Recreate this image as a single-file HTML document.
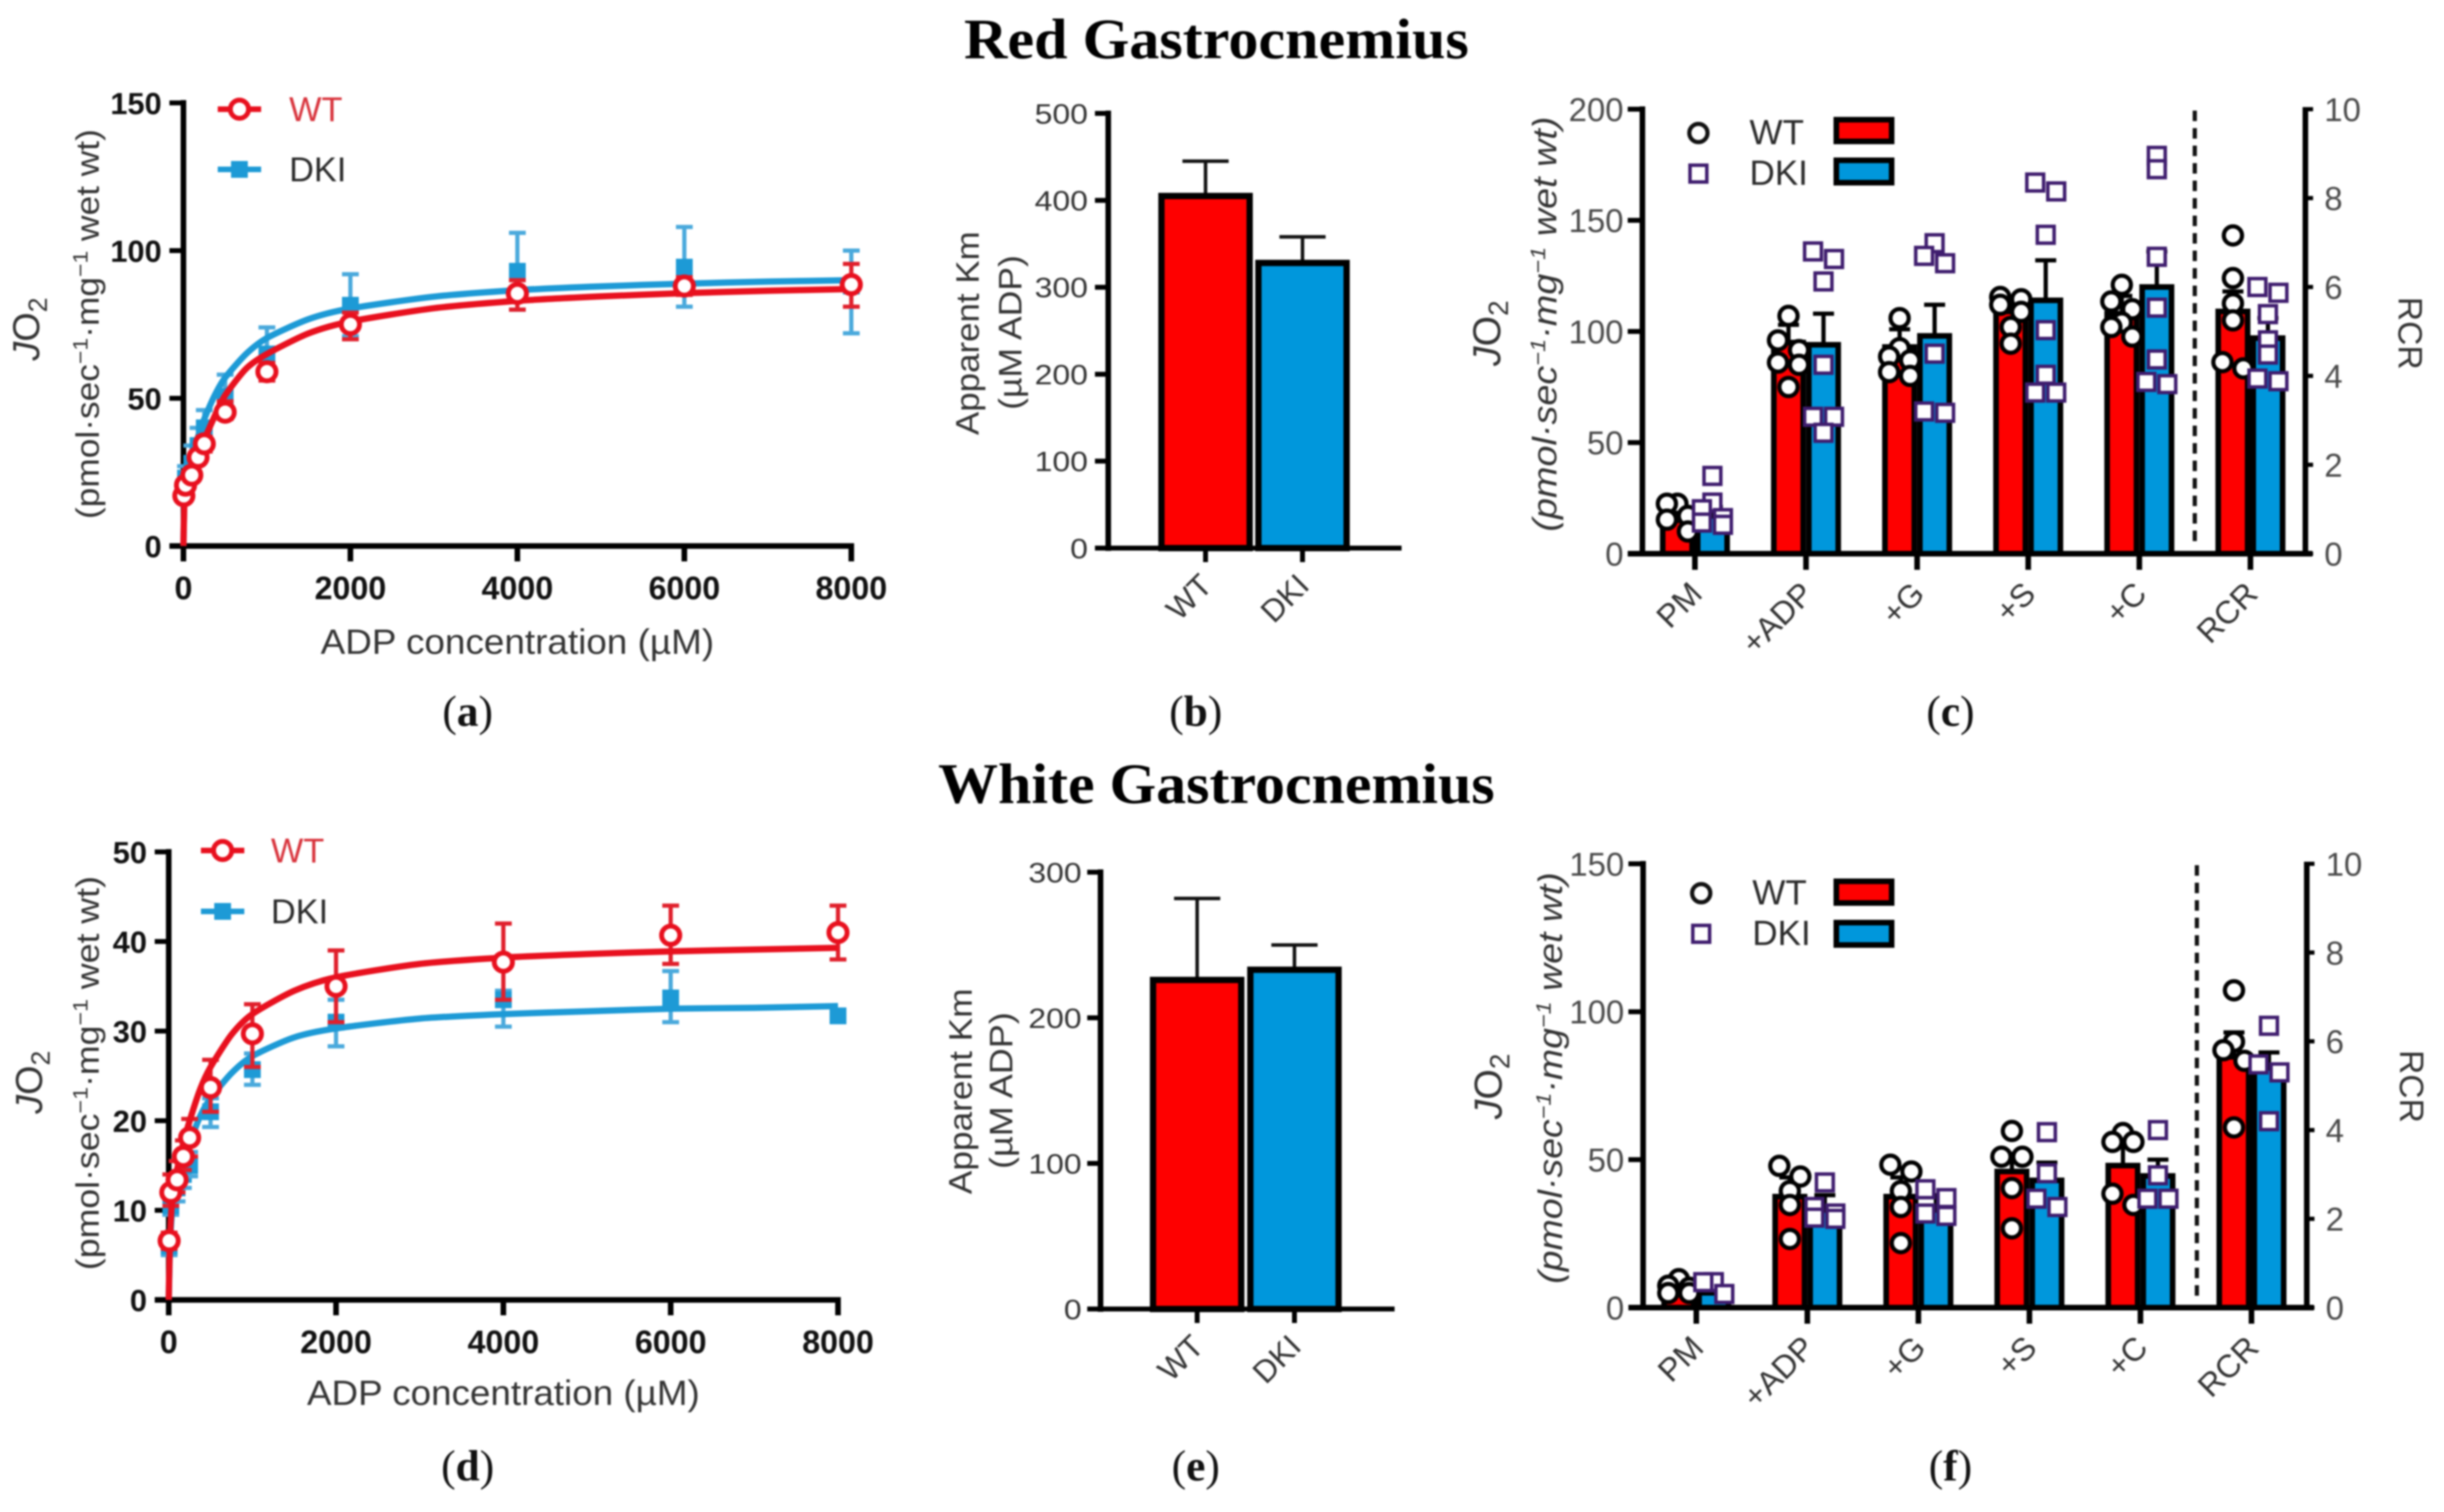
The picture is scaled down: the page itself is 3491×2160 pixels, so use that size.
<!DOCTYPE html>
<html lang="en">
<head>
<meta charset="utf-8">
<title>Red and White Gastrocnemius respiration figure</title>
<style>
html,body{margin:0;padding:0;background:#fff;}
svg{display:block;filter:blur(1.4px);}
text{font-family:"Liberation Sans",sans-serif;}
.serif{font-family:"Liberation Serif",serif;}
.title{font-family:"Liberation Serif",serif;font-weight:bold;font-size:82px;fill:#000;}
.plabel{font-family:"Liberation Serif",serif;font-size:62px;fill:#111;text-anchor:middle;}
.axt{fill:#333;font-size:50px;}
.leg{fill:#2a2a2a;font-size:50px;}
</style>
</head>
<body>
<svg id="fig" xmlns="http://www.w3.org/2000/svg" width="3491" height="2160" viewBox="0 0 3491 2160">
<rect width="3491" height="2160" fill="#fff"/>
<text class="title" x="1377" y="83" textLength="721" lengthAdjust="spacingAndGlyphs">Red Gastrocnemius</text>
<text class="title" x="1340" y="1147" textLength="795" lengthAdjust="spacingAndGlyphs">White Gastrocnemius</text>

<text class="plabel" x="668" y="1037">(<tspan font-weight="bold">a</tspan>)</text>
<text class="plabel" x="1708" y="1037">(<tspan font-weight="bold">b</tspan>)</text>
<text class="plabel" x="2786" y="1037">(<tspan font-weight="bold">c</tspan>)</text>
<text class="plabel" x="668" y="2115">(<tspan font-weight="bold">d</tspan>)</text>
<text class="plabel" x="1708" y="2115">(<tspan font-weight="bold">e</tspan>)</text>
<text class="plabel" x="2786" y="2115">(<tspan font-weight="bold">f</tspan>)</text>

<!-- axis titles panel a -->
<text class="axt" transform="translate(56,470) rotate(-90)" text-anchor="middle" style="font-size:54px"><tspan font-style="italic">J</tspan>O<tspan dy="11" style="font-size:38px">2</tspan></text>
<text class="axt" transform="translate(141,463) rotate(-90)" text-anchor="middle" style="font-size:46px" textLength="557" lengthAdjust="spacingAndGlyphs">(pmol·sec<tspan dy="-16" style="font-size:30px">−1</tspan><tspan dy="16">·mg</tspan><tspan dy="-16" style="font-size:30px">−1</tspan><tspan dy="16"> wet wt)</tspan></text>
<text class="axt" x="739" y="934" text-anchor="middle" textLength="562" lengthAdjust="spacingAndGlyphs">ADP concentration (µM)</text>
<!-- axis titles panel d -->
<text class="axt" transform="translate(60,1546) rotate(-90)" text-anchor="middle" style="font-size:54px"><tspan font-style="italic">J</tspan>O<tspan dy="11" style="font-size:38px">2</tspan></text>
<text class="axt" transform="translate(141,1533) rotate(-90)" text-anchor="middle" style="font-size:46px" textLength="563" lengthAdjust="spacingAndGlyphs">(pmol·sec<tspan dy="-16" style="font-size:30px">−1</tspan><tspan dy="16">·mg</tspan><tspan dy="-16" style="font-size:30px">−1</tspan><tspan dy="16"> wet wt)</tspan></text>
<text class="axt" x="719" y="2007" text-anchor="middle" textLength="561" lengthAdjust="spacingAndGlyphs">ADP concentration (µM)</text>
<!-- panel b, e -->
<text class="axt" transform="translate(1398,476) rotate(-90)" text-anchor="middle" style="font-size:46px" textLength="291" lengthAdjust="spacingAndGlyphs">Apparent Km</text>
<text class="axt" transform="translate(1459,475) rotate(-90)" text-anchor="middle" style="font-size:46px" textLength="221" lengthAdjust="spacingAndGlyphs">(µM ADP)</text>
<text class="axt" transform="translate(1388,1559) rotate(-90)" text-anchor="middle" style="font-size:46px" textLength="294" lengthAdjust="spacingAndGlyphs">Apparent Km</text>
<text class="axt" transform="translate(1446,1558) rotate(-90)" text-anchor="middle" style="font-size:46px" textLength="224" lengthAdjust="spacingAndGlyphs">(µM ADP)</text>
<!-- panel c -->
<text class="axt" transform="translate(2143,476) rotate(-90)" text-anchor="middle" style="font-size:56px"><tspan font-style="italic">J</tspan>O<tspan dy="11" style="font-size:40px">2</tspan></text>
<text class="axt" transform="translate(2223,463) rotate(-90)" text-anchor="middle" font-style="italic" style="font-size:48px" textLength="593" lengthAdjust="spacingAndGlyphs">(pmol·sec<tspan dy="-16" style="font-size:30px">−1</tspan><tspan dy="16">·mg</tspan><tspan dy="-16" style="font-size:30px">−1</tspan><tspan dy="16"> wet wt)</tspan></text>
<text class="axt" transform="translate(3426,476) rotate(90)" text-anchor="middle" style="font-size:48px">RCR</text>
<!-- panel f -->
<text class="axt" transform="translate(2145,1552) rotate(-90)" text-anchor="middle" style="font-size:56px"><tspan font-style="italic">J</tspan>O<tspan dy="11" style="font-size:40px">2</tspan></text>
<text class="axt" transform="translate(2231,1540) rotate(-90)" text-anchor="middle" font-style="italic" style="font-size:48px" textLength="588" lengthAdjust="spacingAndGlyphs">(pmol·sec<tspan dy="-16" style="font-size:30px">−1</tspan><tspan dy="16">·mg</tspan><tspan dy="-16" style="font-size:30px">−1</tspan><tspan dy="16"> wet wt)</tspan></text>
<text class="axt" transform="translate(3428,1552) rotate(90)" text-anchor="middle" style="font-size:48px">RCR</text>

<g id="plots"></g>

<!-- legends -->
<g>
 <line x1="311" y1="156" x2="373" y2="156" stroke="#e8101e" stroke-width="8"/>
 <circle cx="342" cy="156" r="13" fill="#fff" stroke="#e8101e" stroke-width="7"/>
 <text x="413" y="173" style="font-size:49px;fill:#d8333c">WT</text>
 <line x1="311" y1="242" x2="373" y2="242" stroke="#1d9ad6" stroke-width="8"/>
 <rect x="330" y="230" width="24" height="24" fill="#1d9ad6"/>
 <text x="413" y="259" style="font-size:49px;fill:#2a2a2a">DKI</text>
</g>
<g>
 <line x1="287" y1="1215" x2="349" y2="1215" stroke="#e8101e" stroke-width="8"/>
 <circle cx="318" cy="1215" r="13" fill="#fff" stroke="#e8101e" stroke-width="7"/>
 <text x="387" y="1232" style="font-size:49px;fill:#d8333c">WT</text>
 <line x1="287" y1="1302" x2="349" y2="1302" stroke="#1d9ad6" stroke-width="8"/>
 <rect x="306" y="1290" width="24" height="24" fill="#1d9ad6"/>
 <text x="387" y="1319" style="font-size:49px;fill:#2a2a2a">DKI</text>
</g>
<g>
 <circle cx="2426" cy="190" r="13" fill="#fff" stroke="#111" stroke-width="6"/>
 <text class="leg" x="2499" y="206">WT</text>
 <rect x="2623" y="171" width="79" height="31" fill="#fe0000" stroke="#000" stroke-width="8"/>
 <rect x="2414" y="236" width="24" height="24" fill="#fff" stroke="#3f1d6e" stroke-width="5"/>
 <text class="leg" x="2499" y="264">DKI</text>
 <rect x="2623" y="229" width="79" height="32" fill="#0097dc" stroke="#000" stroke-width="8"/>
</g>
<g>
 <circle cx="2430" cy="1276" r="13" fill="#fff" stroke="#111" stroke-width="6"/>
 <text class="leg" x="2503" y="1292">WT</text>
 <rect x="2623" y="1259" width="79" height="31" fill="#fe0000" stroke="#000" stroke-width="8"/>
 <rect x="2418" y="1322" width="24" height="24" fill="#fff" stroke="#3f1d6e" stroke-width="5"/>
 <text class="leg" x="2503" y="1350">DKI</text>
 <rect x="2623" y="1318" width="79" height="32" fill="#0097dc" stroke="#000" stroke-width="8"/>
</g>
</svg>

<script>
// ---------- Kinetic curves (panels a, d) ----------
const concentrations = [5, 25, 100, 175, 250, 500, 1000, 2000, 4000, 6000, 8000];
const curveConc = [0, 8, 15, 25, 50, 100, 175, 250, 375, 500, 750, 1000, 1500, 2000, 3000, 4000, 5000, 6000, 7000, 8000];
const kineticXTicks = [0, 2000, 4000, 6000, 8000];

const aYTicks = [0, 50, 100, 150];
const aWt = [17, 20.6, 24, 30, 34.6, 45.3, 59, 75, 85.5, 88, 88.5];
const aWtHi = [19, 22.6, 26, 32, 37, 49, 62, 79, 90, 91, 95.5];
const aWtLo = [15, 18.6, 22, 28, 32, 43, 56, 70, 80, 85, 81];
const aDki = [19, 23, 28, 34, 40, 50.6, 65, 81.5, 93, 94.4, 88];
const aDkiHi = [22, 27, 34, 40, 46, 58, 74, 92, 106, 108, 100];
const aDkiLo = [16, 19, 24, 30, 34, 46, 58, 71, 80, 81, 72];
const aWtCurve = [0, 12, 17, 19.5, 22, 26, 31, 36, 44, 51, 60, 65, 72, 76, 80.5, 83, 84.5, 85.6, 86.4, 87];
const aDkiCurve = [0, 14, 20, 23, 26, 31, 37, 43, 51, 57, 65, 70.4, 76.8, 80.4, 84.4, 86.6, 87.9, 88.8, 89.5, 90];

const dYTicks = [0, 10, 20, 30, 40, 50];
const dWt = [6.6, 12, 13.4, 16, 18.1, 23.7, 29.7, 35, 37.7, 40.7, 41];
const dWtHi = [7.5, 14, 15.5, 17.8, 20.2, 26.8, 33, 39, 42, 44, 44];
const dWtLo = [5.7, 10.5, 12, 14.5, 16, 21, 26, 31, 33.5, 37.5, 38];
const dDki = [6, 10.5, 12.5, 14, 15, 21, 25.7, 31, 33.5, 33.7, 31.7];
const dDkiHi = [7, 12, 14, 15.5, 16.5, 22.5, 27.5, 33.5, 34.5, 36.7, 32.3];
const dDkiLo = [5, 9.5, 11, 12.5, 13.8, 19.3, 24, 28.3, 30.5, 31, 31.1];
const dWtCurve = [0, 4, 6.6, 9, 12, 14.5, 17.5, 20, 23.5, 26, 29.6, 31.9, 34.5, 36, 37.5, 38.2, 38.6, 38.9, 39.1, 39.3];
const dDkiCurve = [0, 3.5, 6, 8, 11, 13, 15.5, 17.5, 20.5, 22.5, 25.3, 27.2, 29.3, 30.3, 31.4, 31.9, 32.2, 32.5, 32.6, 32.8];

// ---------- Apparent Km bars (panels b, e) ----------
const kmGroups = ['WT', 'DKI'];
const bYTicks = [0, 100, 200, 300, 400, 500];
const bKm = [405, 328];
const bKmHi = [445, 358];
const eYTicks = [0, 100, 200, 300];
const eKm = [226, 233];
const eKmHi = [282, 250];

// ---------- Respiration bars (panels c, f). Last entry of each array is RCR, read on the right axis ----------
const stepCategories = ['PM', '+ADP', '+G', '+S', '+C', 'RCR'];
const rcrTicks = [0, 2, 4, 6, 8, 10];

const cYTicks = [0, 50, 100, 150, 200];
const cWtMean = [15, 95, 93, 109, 108, 5.45];
const cWtHi = [19, 103, 101, 115, 116, 5.9];
const cDkiMean = [17, 94, 98, 114, 120, 4.85];
const cDkiHi = [21, 108, 112, 132, 136, 5.3];
const cWtPoints = [
  [22.5, 22.5, 17, 15.3, 10],
  [107, 96, 91.6, 86, 85, 75],
  [106, 92.5, 88.7, 87, 81.7, 80],
  [115.5, 114.5, 112, 108.8, 102, 94.5],
  [121, 113.5, 110, 104, 102, 97.7],
  [7.16, 6.2, 5.63, 5.25, 4.31, 4.17]
];
const cDkiPoints = [
  [35, 23, 20, 16, 14, 13],
  [136, 132.6, 122.5, 85, 61.6, 61.6, 54.4],
  [139.7, 134, 130.7, 90, 64, 63.4],
  [167, 163, 143.5, 100.6, 80.5, 72.5, 72.5],
  [179, 173, 133.6, 110.7, 87.4, 77.3, 76.3],
  [6, 5.87, 5.39, 4.8, 4.48, 3.94, 3.88]
];

const fYTicks = [0, 50, 100, 150];
const fWtMean = [5, 37.5, 37.5, 46, 48, 5.65];
const fWtHi = [7, 44, 44, 52, 56, 6.2];
const fDkiMean = [5, 33, 33, 43, 44.5, 5.4];
const fDkiHi = [7, 38, 38, 49, 50, 5.75];
const fWtPoints = [
  [9.6, 7.4, 6.7, 4.9, 4.9],
  [47.9, 44.3, 39.4, 34.7, 23.2],
  [48.3, 46, 39.4, 34, 21.8],
  [59.7, 51, 51, 40.4, 26.8],
  [59, 56, 56, 38.5, 34.7],
  [7.15, 5.99, 5.8, 5.56, 4.06]
];
const fDkiPoints = [
  [8.6, 8.6, 4.6],
  [42.3, 34, 31.8, 30.4, 30],
  [40, 37, 31.8, 31],
  [59.3, 45.4, 36.8, 34],
  [60, 44.7, 36.8, 36.8],
  [6.35, 5.48, 5.3, 4.2]
];

// ---------- Drawing ----------
const NS = 'http://www.w3.org/2000/svg';
const RED = '#fe0000', BLUE = '#0097dc', LINE_RED = '#e8101e', LINE_BLUE = '#1d9ad6', PURPLE = '#3f1d6e';
const root = document.getElementById('plots');

function make(parent, tag, attrs) {
  const node = document.createElementNS(NS, tag);
  for (const k in attrs) node.setAttribute(k, attrs[k]);
  parent.appendChild(node);
  return node;
}
function smoothPath(pts) {
  let d = 'M' + pts[0][0].toFixed(1) + ' ' + pts[0][1].toFixed(1);
  for (let i = 0; i < pts.length - 1; i++) {
    const p0 = pts[Math.max(i - 1, 0)], p1 = pts[i], p2 = pts[i + 1], p3 = pts[Math.min(i + 2, pts.length - 1)];
    const c1x = p1[0] + (p2[0] - p0[0]) / 8, c1y = p1[1] + (p2[1] - p0[1]) / 8;
    const c2x = p2[0] - (p3[0] - p1[0]) / 8, c2y = p2[1] - (p3[1] - p1[1]) / 8;
    d += 'C' + c1x.toFixed(1) + ' ' + c1y.toFixed(1) + ' ' + c2x.toFixed(1) + ' ' + c2y.toFixed(1) + ' ' + p2[0].toFixed(1) + ' ' + p2[1].toFixed(1);
  }
  return d;
}
function linearScale(d0, d1, r0, r1) {
  return v => r0 + (v - d0) / (d1 - d0) * (r1 - r0);
}

function drawLeftAxis(g, axisX, yBottom, yTop, ticks, y, tickLeft, width, labelRight, fontSize, bold, fill, stretch) {
  const spine = make(g, 'line', {x1: axisX, y1: yTop - width / 2, x2: axisX, y2: yBottom + width / 2, stroke: '#000', 'stroke-width': width});
  
  
  ticks.forEach(t => {
    const tick = make(g, 'line', {x1: tickLeft, y1: y(t), x2: axisX, y2: y(t), stroke: '#000', 'stroke-width': width - 1});
    
    
    const attrs = {x: labelRight, y: y(t) + fontSize * 0.358, 'text-anchor': 'end', fill: fill, style: 'font-size:' + fontSize + 'px;font-weight:' + (bold ? 'bold' : 'normal')};
    if (stretch) { attrs.textLength = String(t).length * fontSize * 0.556 * stretch; attrs.lengthAdjust = 'spacingAndGlyphs'; }
    const label = make(g, 'text', attrs);
    
    
    label.textContent = t;
  });
}

function drawKinetic(id, box, yTicks, wt, wtHi, wtLo, dki, dkiHi, dkiLo, wtCurve, dkiCurve) {
  const x = linearScale(0, 8000, box.x0, box.x1);
  const y = linearScale(0, yTicks[yTicks.length - 1], box.y0, box.y1);
  const g = make(root, 'g', {});
  
  

  drawLeftAxis(g, box.x0, box.y0, box.y1, yTicks, y, box.x0 - 20, 8, box.x0 - 31, 44, true, '#111');
  const baseline = make(g, 'line', {x1: box.x0 - 20, y1: box.y0, x2: box.x1 + 4, y2: box.y0, stroke: '#000', 'stroke-width': 8});
  
  
  kineticXTicks.forEach(t => {
    const tick = make(g, 'line', {x1: x(t), y1: box.y0, x2: x(t), y2: box.y0 + 22, stroke: '#000', 'stroke-width': 8});
    
    
    const label = make(g, 'text', {x: x(t), y: box.y0 + 76, 'text-anchor': 'middle', fill: '#111', style: 'font-size:46px;font-weight:bold'});
    
    
    label.textContent = t;
  });

  // DKI series
  concentrations.forEach((c, i) => {
    const err = make(g, 'path', {d: 'M' + (x(c) - 12) + ' ' + y(dkiHi[i]) + 'H' + (x(c) + 12) + 'M' + x(c) + ' ' + y(dkiHi[i]) + 'V' + y(dkiLo[i]) + 'M' + (x(c) - 12) + ' ' + y(dkiLo[i]) + 'H' + (x(c) + 12), stroke: '#4aa9dc', 'stroke-width': 6, fill: 'none'});
    
    
    const pt = make(g, 'rect', {x: x(c) - 12, y: y(dki[i]) - 12, width: 24, height: 24, fill: LINE_BLUE});
    
    
  });
  const dkiLine = make(g, 'path', {d: smoothPath(curveConc.map((c, i) => [x(c), y(dkiCurve[i])])), fill: 'none', stroke: LINE_BLUE, 'stroke-width': 9});
  
  

  // WT series
  concentrations.forEach((c, i) => {
    const err = make(g, 'path', {d: 'M' + (x(c) - 12) + ' ' + y(wtHi[i]) + 'H' + (x(c) + 12) + 'M' + x(c) + ' ' + y(wtHi[i]) + 'V' + y(wtLo[i]) + 'M' + (x(c) - 12) + ' ' + y(wtLo[i]) + 'H' + (x(c) + 12), stroke: '#e0202c', 'stroke-width': 6, fill: 'none'});
    
    
  });
  const wtLine = make(g, 'path', {d: smoothPath(curveConc.map((c, i) => [x(c), y(wtCurve[i])])), fill: 'none', stroke: LINE_RED, 'stroke-width': 9});
  
  
  concentrations.forEach((c, i) => {
    const pt = make(g, 'circle', {cx: x(c), cy: y(wt[i]), r: 13, fill: '#fff', stroke: LINE_RED, 'stroke-width': 7});
    
    
  });
}

function drawKm(id, box, yTicks, km, kmHi) {
  const y = linearScale(0, yTicks[yTicks.length - 1], box.y0, box.y1);
  const g = make(root, 'g', {});
  
  
  drawLeftAxis(g, box.axisX, box.y0, box.y1, yTicks, y, box.axisX - 19, 8, box.labelRight, 40, false, '#333', 1.14);
  const baseline = make(g, 'line', {x1: box.axisX - 19, y1: box.y0, x2: box.xEnd, y2: box.y0, stroke: '#000', 'stroke-width': 7});
  
  
  kmGroups.forEach((name, i) => {
    const cx = box.centers0 + i * box.step;
    const err = make(g, 'path', {d: 'M' + (cx - 33) + ' ' + y(kmHi[i]) + 'H' + (cx + 33) + 'M' + cx + ' ' + y(kmHi[i]) + 'V' + y(km[i]), stroke: '#111', 'stroke-width': 5, fill: 'none'});
    
    
    const bar = make(g, 'rect', {x: cx - 63, y: y(km[i]), width: 126, height: box.y0 - y(km[i]), fill: i ? BLUE : RED, stroke: '#000', 'stroke-width': 9});
    
    
    const tick = make(g, 'line', {x1: cx, y1: box.y0, x2: cx, y2: box.y0 + 20, stroke: '#000', 'stroke-width': 7});
    
    
    const label = make(g, 'text', {transform: 'translate(' + (cx + 12) + ',' + (box.y0 + 56) + ') rotate(-45)', 'text-anchor': 'end', fill: '#333', style: 'font-size:45px'});
    
    
    label.textContent = name;
  });
}

function dodge(values, yFn, spread) {
  // Swarm layout: neighbouring values that would overlap are pushed to either side of the bar centre.
  const out = new Array(values.length).fill(0);
  const order = values.map((v, i) => i).sort((a, b) => yFn(values[a]) - yFn(values[b]));
  let start = 0;
  for (let k = 1; k <= order.length; k++) {
    if (k === order.length || yFn(values[order[k]]) - yFn(values[order[k - 1]]) > 18) {
      const n = k - start;
      for (let j = 0; j < n; j++) {
        const m = n % 2 ? j - 1 : j;
        out[order[start + j]] = (n % 2 && j === 0) ? 0 : (m % 2 ? spread : -spread);
      }
      start = k;
    }
  }
  return out;
}

function drawSteps(id, box, yTicks, wtMean, wtHi, dkiMean, dkiHi, wtPoints, dkiPoints) {
  const yL = linearScale(0, yTicks[yTicks.length - 1], box.y0, box.y1);
  const yR = linearScale(0, rcrTicks[rcrTicks.length - 1], box.y0, box.y1);
  const yOf = i => (stepCategories[i] === 'RCR' ? yR : yL);
  const g = make(root, 'g', {});
  
  

  drawLeftAxis(g, box.axisL, box.y0, box.y1, yTicks, yL, box.axisL - 21, 8, box.axisL - 27, 47, false, '#4a4a4a');
  const baseline = make(g, 'line', {x1: box.axisL - 21, y1: box.y0, x2: box.axisR + 10, y2: box.y0, stroke: '#000', 'stroke-width': 8});
  
  
  const rightAxis = make(g, 'line', {x1: box.axisR, y1: box.y1 - 3, x2: box.axisR, y2: box.y0 + 3, stroke: '#000', 'stroke-width': 8});
  
  
  rcrTicks.forEach(t => {
    const tick = make(g, 'line', {x1: box.axisR, y1: yR(t), x2: box.axisR + 11, y2: yR(t), stroke: '#000', 'stroke-width': 6});
    
    
    const label = make(g, 'text', {x: box.axisR + 27, y: yR(t) + 17, fill: '#4a4a4a', style: 'font-size:47px'});
    
    
    label.textContent = t;
  });
  const divider = make(g, 'line', {x1: box.dash, y1: box.y1 + 2, x2: box.dash, y2: box.y0 - 12, stroke: '#111', 'stroke-width': 6, 'stroke-dasharray': '15 10'});
  
  

  const bw = 42, sw = 8, offset = 25;
  stepCategories.forEach((name, i) => {
    const cx = box.first + i * box.step;
    const y = yOf(i);
    const tick = make(g, 'line', {x1: cx, y1: box.y0, x2: cx, y2: box.y0 + 23, stroke: '#000', 'stroke-width': 8});
    
    
    const label = make(g, 'text', {transform: 'translate(' + (cx + 13) + ',' + (box.y0 + 60) + ') rotate(-45)', 'text-anchor': 'end', fill: '#333', style: 'font-size:46px'});
    
    
    label.textContent = name;

    [[wtMean, wtHi, RED, -offset], [dkiMean, dkiHi, BLUE, offset]].forEach(spec => {
      const bx = cx + spec[3];
      const err = make(g, 'path', {d: 'M' + (bx - 15) + ' ' + y(spec[1][i]) + 'H' + (bx + 15) + 'M' + bx + ' ' + y(spec[1][i]) + 'V' + y(spec[0][i]), stroke: '#000', 'stroke-width': 6, fill: 'none'});
      
      
      const bar = make(g, 'rect', {x: bx - bw / 2, y: y(spec[0][i]), width: bw, height: box.y0 - y(spec[0][i]), fill: spec[2], stroke: '#000', 'stroke-width': sw});
      
      
    });
    const wtShift = dodge(wtPoints[i], y, 15);
    wtPoints[i].forEach((v, j) => {
      const dot = make(g, 'circle', {cx: cx - offset + wtShift[j], cy: y(v), r: 13, fill: '#fff', stroke: '#000', 'stroke-width': 6});
      
      
    });
    const dkiShift = dodge(dkiPoints[i], y, 15);
    dkiPoints[i].forEach((v, j) => {
      const sq = make(g, 'rect', {x: cx + offset + dkiShift[j] - 12, y: y(v) - 12, width: 24, height: 24, fill: '#fff', stroke: PURPLE, 'stroke-width': 5});
      
      
    });
  });
}

drawKinetic('a', {x0: 262, x1: 1216, y0: 780, y1: 147}, aYTicks, aWt, aWtHi, aWtLo, aDki, aDkiHi, aDkiLo, aWtCurve, aDkiCurve);
drawKinetic('d', {x0: 241, x1: 1197, y0: 1857, y1: 1217}, dYTicks, dWt, dWtHi, dWtLo, dDki, dDkiHi, dDkiLo, dWtCurve, dDkiCurve);
drawKm('b', {axisX: 1583, y0: 783, y1: 162, xEnd: 2002, labelRight: 1554, centers0: 1722, step: 138.5}, bYTicks, bKm, bKmHi);
drawKm('e', {axisX: 1572, y0: 1870, y1: 1246, xEnd: 1992, labelRight: 1545, centers0: 1710, step: 139}, eYTicks, eKm, eKmHi);
drawSteps('c', {axisL: 2346, axisR: 3293, y0: 791, y1: 156, first: 2421, step: 158.7, dash: 3135}, cYTicks, cWtMean, cWtHi, cDkiMean, cDkiHi, cWtPoints, cDkiPoints);
drawSteps('f', {axisL: 2347, axisR: 3295, y0: 1868, y1: 1234, first: 2423, step: 158.6, dash: 3138}, fYTicks, fWtMean, fWtHi, fDkiMean, fDkiHi, fWtPoints, fDkiPoints);
</script>
</body>
</html>
